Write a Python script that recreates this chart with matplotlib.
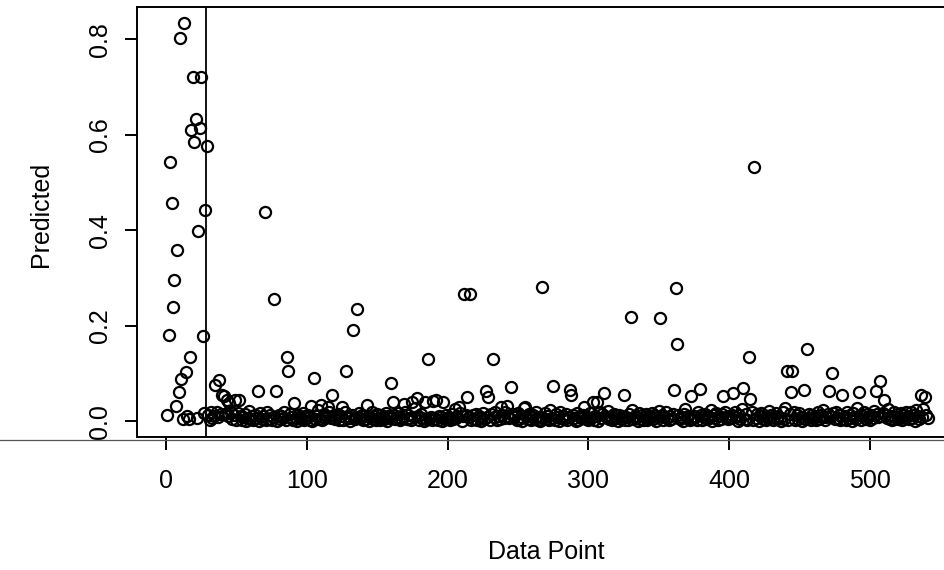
import matplotlib
matplotlib.use('Agg')
import matplotlib.pyplot as plt
import numpy as np
from matplotlib.lines import Line2D

plt.rcParams['font.family'] = ['Liberation Sans', 'DejaVu Sans']

# low background predictions, one per data point (1..541)
base_vals = [
    0.012, 0.004, 0.009, 0.002, 0.015, 0.006, 0.003, 0.011, 0.007, 0.001, 0.013, 0.005, 0.008, 0.002, 0.010, 0.004, 0.014, 0.006, 0.003, 0.009,
    0.001, 0.007, 0.012, 0.004, 0.010, 0.002, 0.016, 0.005, 0.008, 0.013, 0.003, 0.020, 0.006, 0.011, 0.002, 0.018, 0.009, 0.004, 0.014, 0.007,
    0.003, 0.015, 0.001, 0.010, 0.006, 0.019, 0.004, 0.012, 0.008, 0.002, 0.017, 0.005, 0.011, 0.003, 0.009, 0.014, 0.001, 0.007, 0.022, 0.004,
    0.010, 0.002, 0.013, 0.006, 0.008, 0.001, 0.016, 0.004, 0.011, 0.007, 0.003, 0.019, 0.005, 0.012, 0.002, 0.009, 0.015, 0.006, 0.001, 0.013,
    0.004, 0.010, 0.007, 0.018, 0.002, 0.011, 0.005, 0.014, 0.008, 0.003, 0.021, 0.006, 0.001, 0.012, 0.009, 0.004, 0.016, 0.002, 0.010, 0.007,
    0.013, 0.003, 0.008, 0.001, 0.017, 0.005, 0.011, 0.024, 0.004, 0.009, 0.002, 0.014, 0.006, 0.010, 0.003, 0.019, 0.007, 0.001, 0.012, 0.005,
    0.008, 0.015, 0.002, 0.010, 0.006, 0.003, 0.018, 0.004, 0.011, 0.007, 0.001, 0.013, 0.026, 0.005, 0.009, 0.002, 0.016, 0.006, 0.012, 0.003,
    0.010, 0.004, 0.014, 0.001, 0.008, 0.020, 0.005, 0.011, 0.002, 0.015, 0.007, 0.003, 0.012, 0.009, 0.004, 0.017, 0.001, 0.010, 0.006, 0.023,
    0.002, 0.013, 0.005, 0.009, 0.016, 0.003, 0.007, 0.011, 0.001, 0.019, 0.004, 0.012, 0.006, 0.002, 0.014, 0.008, 0.028, 0.005, 0.010, 0.003,
    0.015, 0.007, 0.001, 0.011, 0.004, 0.018, 0.006, 0.009, 0.002, 0.013, 0.005, 0.021, 0.003, 0.010, 0.008, 0.001, 0.016, 0.004, 0.012, 0.006,
    0.009, 0.002, 0.014, 0.005, 0.025, 0.007, 0.011, 0.003, 0.017, 0.001, 0.010, 0.006, 0.013, 0.004, 0.008, 0.019, 0.002, 0.012, 0.005, 0.015,
    0.003, 0.010, 0.007, 0.001, 0.016, 0.004, 0.022, 0.008, 0.012, 0.002, 0.014, 0.006, 0.009, 0.018, 0.003, 0.011, 0.005, 0.001, 0.013, 0.007,
    0.020, 0.004, 0.010, 0.006, 0.002, 0.015, 0.008, 0.012, 0.003, 0.017, 0.005, 0.009, 0.001, 0.027, 0.006, 0.011, 0.004, 0.014, 0.002, 0.008,
    0.012, 0.005, 0.018, 0.003, 0.009, 0.001, 0.013, 0.007, 0.016, 0.004, 0.010, 0.002, 0.023, 0.006, 0.011, 0.003, 0.015, 0.008, 0.001, 0.019,
    0.006, 0.011, 0.004, 0.014, 0.002, 0.009, 0.020, 0.005, 0.012, 0.007, 0.001, 0.017, 0.003, 0.010, 0.006, 0.013, 0.029, 0.004, 0.008, 0.002,
    0.016, 0.007, 0.012, 0.003, 0.010, 0.005, 0.001, 0.018, 0.006, 0.014, 0.002, 0.011, 0.008, 0.021, 0.004, 0.009, 0.003, 0.015, 0.006, 0.012,
    0.001, 0.013, 0.005, 0.010, 0.019, 0.003, 0.008, 0.002, 0.015, 0.006, 0.024, 0.004, 0.011, 0.007, 0.001, 0.016, 0.005, 0.012, 0.003, 0.009,
    0.014, 0.002, 0.010, 0.006, 0.017, 0.004, 0.012, 0.001, 0.008, 0.022, 0.005, 0.013, 0.003, 0.009, 0.018, 0.006, 0.002, 0.011, 0.004, 0.015,
    0.007, 0.020, 0.003, 0.012, 0.005, 0.009, 0.001, 0.014, 0.026, 0.006, 0.010, 0.002, 0.016, 0.004, 0.011, 0.008, 0.003, 0.019, 0.005, 0.013,
    0.002, 0.009, 0.015, 0.004, 0.011, 0.007, 0.023, 0.001, 0.012, 0.006, 0.017, 0.003, 0.010, 0.005, 0.014, 0.002, 0.020, 0.008, 0.004, 0.011,
    0.006, 0.013, 0.003, 0.018, 0.008, 0.001, 0.012, 0.005, 0.025, 0.009, 0.004, 0.015, 0.002, 0.010, 0.007, 0.019, 0.003, 0.011, 0.006, 0.014,
    0.001, 0.010, 0.017, 0.005, 0.012, 0.003, 0.008, 0.021, 0.006, 0.013, 0.002, 0.009, 0.016, 0.004, 0.011, 0.007, 0.001, 0.018, 0.005, 0.027,
    0.008, 0.003, 0.014, 0.006, 0.010, 0.019, 0.002, 0.012, 0.005, 0.016, 0.009, 0.001, 0.022, 0.004, 0.011, 0.007, 0.015, 0.003, 0.013, 0.006,
    0.010, 0.002, 0.018, 0.005, 0.012, 0.008, 0.024, 0.003, 0.009, 0.014, 0.001, 0.011, 0.006, 0.017, 0.004, 0.020, 0.007, 0.012, 0.002, 0.015,
    0.005, 0.011, 0.003, 0.019, 0.007, 0.013, 0.001, 0.016, 0.009, 0.004, 0.028, 0.006, 0.012, 0.002, 0.010, 0.018, 0.005, 0.014, 0.008, 0.003,
    0.012, 0.006, 0.021, 0.002, 0.015, 0.009, 0.004, 0.011, 0.017, 0.001, 0.013, 0.007, 0.025, 0.005, 0.010, 0.003, 0.019, 0.008, 0.014, 0.004,
    0.009, 0.016, 0.002, 0.012, 0.006, 0.020, 0.010, 0.004, 0.018, 0.007, 0.013, 0.001, 0.023, 0.011, 0.005, 0.015, 0.008, 0.026, 0.003, 0.012,
    0.006,
]

# points that stand out from the low band
spike_idx = [2, 3, 4, 5, 6, 7, 8, 9, 10, 11, 13, 14, 17, 18, 19, 20, 21, 23, 24, 25, 26, 28, 29,
             35, 38, 40, 41, 43, 45, 49, 52, 65, 70, 77, 78, 86, 87, 91, 103, 105, 110, 115, 118,
             125, 128, 133, 136, 143, 160, 161, 169, 175, 178, 184, 186, 190, 192, 197, 208,
             212, 214, 216, 227, 229, 232, 238, 242, 245, 255, 267, 275, 287, 288, 303, 306,
             311, 325, 330, 351, 361, 362, 363, 373, 379, 396, 403, 410, 414, 415, 418, 441,
             444, 445, 453, 455, 471, 473, 480, 492, 504, 507, 510, 536, 539]
spike_vals = [0.180, 0.543, 0.458, 0.239, 0.296, 0.032, 0.359, 0.060, 0.802, 0.088, 0.835, 0.103, 0.135,
              0.610, 0.722, 0.585, 0.634, 0.398, 0.615, 0.722, 0.178, 0.442, 0.576,
              0.076, 0.086, 0.055, 0.053, 0.045, 0.038, 0.045, 0.044, 0.062, 0.438, 0.256, 0.064,
              0.135, 0.104, 0.037, 0.032, 0.091, 0.033, 0.030, 0.055,
              0.030, 0.106, 0.191, 0.235, 0.033, 0.080, 0.040, 0.035, 0.040, 0.048, 0.040, 0.130,
              0.042, 0.045, 0.040, 0.030,
              0.266, 0.051, 0.266, 0.062, 0.051, 0.130, 0.030, 0.032, 0.072, 0.030, 0.280, 0.074,
              0.065, 0.055, 0.040, 0.040,
              0.059, 0.055, 0.218, 0.216, 0.065, 0.279, 0.162, 0.052, 0.067, 0.053, 0.059, 0.069,
              0.135, 0.047, 0.532, 0.104,
              0.060, 0.106, 0.066, 0.151, 0.062, 0.101, 0.055, 0.060, 0.063, 0.084, 0.044, 0.055, 0.050]

cutoff = 28.5
x_ticks = [0, 100, 200, 300, 400, 500]
y_ticks = [0.0, 0.2, 0.4, 0.6, 0.8]

pred = np.array(base_vals)
pred[np.array(spike_idx) - 1] = spike_vals
idx = np.arange(1, len(pred) + 1)

fig = plt.figure(figsize=(9.44, 5.70), dpi=100)
ax = fig.add_axes([137 / 944, 1 - 437 / 570, (958 - 137) / 944, (437 - 7) / 570])

ax.plot(idx, pred, 'o', mfc='none', mec='black', ms=8, mew=1.6)
ax.axvline(cutoff, color='black', lw=1.3)

ax.set_xlim(-20.6, 562.6)
ax.set_ylim(-0.0334, 0.868)
ax.set_xticks(x_ticks)
ax.set_yticks(y_ticks)
ax.set_yticklabels(['%.1f' % v for v in y_ticks])

for s in ax.spines.values():
    s.set_linewidth(1.4)
ax.tick_params(axis='both', direction='out', length=9, width=1.4, labelsize=18)
ax.tick_params(axis='x', pad=14)
ax.tick_params(axis='y', pad=9, labelrotation=90)
for lbl in ax.get_yticklabels():
    lbl.set_va('center')

fig.text(41 / 944, 1 - 214 / 570, 'Predicted', rotation=90, ha='center', va='center', fontsize=18)
fig.text(546 / 944, 1 - 552 / 570, 'Data Point', ha='center', va='center', fontsize=18)

# scan line running under the plot box
fig.add_artist(Line2D([0, 1], [1 - 440 / 570, 1 - 440 / 570], transform=fig.transFigure,
                      color='#555555', lw=0.9))

fig.savefig('out.png', dpi=100)
